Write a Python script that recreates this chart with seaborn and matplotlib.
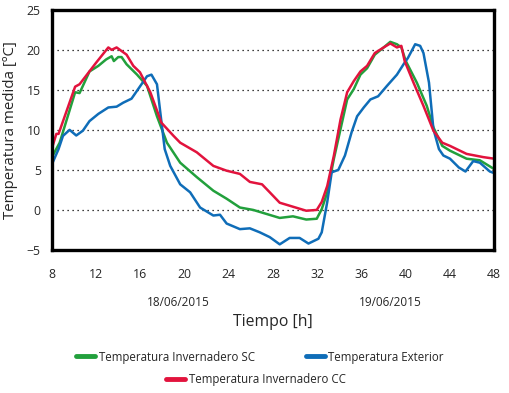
import pandas as pd
import seaborn as sns
import matplotlib.pyplot as plt
import matplotlib.transforms as mtransforms

# Temperatura Invernadero CC (rojo)
horas_cc = [8.0, 8.4, 8.6, 10.1, 10.5, 12.0, 13.1, 13.4, 13.85, 14.75, 15.36, 15.96, 16.9,
            17.9, 19.0, 19.6, 21.1, 22.6, 23.8, 25.0, 25.9, 27.0, 27.7, 28.6, 29.8, 31.0,
            31.95, 32.4, 32.9, 33.5, 34.1, 34.7, 35.3, 35.9, 36.5, 37.2, 38.0, 38.6, 39.2,
            39.6, 39.9, 40.7, 41.6, 42.5, 43.3, 44.0, 45.5, 47.0, 48.0]
temp_cc = [7.7, 9.5, 9.5, 15.4, 15.7, 18.4, 20.3, 20.0, 20.3, 19.4, 18.0, 17.2, 14.7,
           10.9, 9.25, 8.4, 7.2, 5.5, 4.9, 4.5, 3.5, 3.2, 2.2, 0.9, 0.4, -0.1,
           0.0, 1.0, 3.0, 6.8, 11.3, 14.7, 16.1, 17.3, 18.0, 19.6, 20.3, 20.8, 20.3,
           20.5, 18.6, 15.9, 13.0, 9.9, 8.4, 8.0, 7.0, 6.6, 6.4]

# Temperatura Invernadero SC (verde)
horas_sc = [8.0, 8.7, 10.1, 10.5, 11.4, 12.2, 12.9, 13.4, 13.6, 14.0, 14.3, 14.75, 15.7,
            16.6, 17.5, 18.4, 19.6, 21.1, 22.6, 23.8, 25.0, 26.2, 27.4, 28.6, 29.8, 31.0,
            31.95, 32.4, 32.9, 33.5, 34.1, 34.7, 35.3, 35.9, 36.5, 37.2, 38.0, 38.6, 39.2,
            39.6, 40.0, 41.0, 41.9, 42.5, 43.3, 44.0, 45.5, 46.7, 48.0]
temp_sc = [6.6, 8.4, 14.7, 14.6, 17.3, 18.0, 18.8, 19.2, 18.6, 19.1, 19.1, 18.2, 16.9,
           15.5, 11.7, 8.4, 5.9, 4.1, 2.4, 1.4, 0.3, 0.0, -0.5, -1.0, -0.8, -1.2,
           -1.1, 0.1, 2.2, 6.4, 10.1, 13.8, 15.1, 16.9, 17.7, 19.4, 20.3, 21.0, 20.7,
           20.3, 18.6, 15.9, 13.0, 10.3, 8.0, 7.4, 6.4, 6.2, 5.1]

# Temperatura Exterior (azul)
horas_ext = [8.0, 8.6, 9.0, 9.6, 10.2, 10.8, 11.4, 12.2, 13.1, 13.85, 14.45, 15.2, 15.8,
             16.6, 17.0, 17.5, 17.8, 18.2, 18.7, 19.6, 20.5, 21.4, 22.6, 23.2, 23.8, 25.0,
             25.9, 26.8, 27.7, 28.6, 29.5, 30.4, 31.2, 32.1, 32.4, 32.9, 33.3, 33.9, 34.5,
             35.1, 35.6, 36.2, 36.8, 37.5, 38.3, 39.2, 39.8, 40.2, 40.85, 41.3, 41.6, 42.1,
             42.5, 43.0, 43.4, 44.0, 44.8, 45.4, 46.1, 46.7, 47.6, 48.0]
temp_ext = [5.7, 7.6, 9.25, 10.0, 9.3, 9.9, 11.1, 12.0, 12.8, 12.9, 13.4, 13.9, 15.1,
            16.7, 16.9, 15.7, 12.2, 7.6, 5.5, 3.2, 2.2, 0.3, -0.7, -0.6, -1.7, -2.4,
            -2.3, -2.8, -3.4, -4.3, -3.5, -3.5, -4.2, -3.6, -2.8, 1.0, 4.7, 5.0, 6.8,
            9.7, 11.7, 12.8, 13.8, 14.2, 15.5, 16.9, 18.2, 19.0, 20.7, 20.5, 19.6, 15.9,
            10.1, 7.6, 6.8, 6.4, 5.3, 4.8, 6.1, 5.9, 4.8, 4.6]

series = ['Temperatura Invernadero SC', 'Temperatura Exterior', 'Temperatura Invernadero CC']
colores = ['#22a03c', '#0f6db8', '#e2133d']
fechas = ['18/06/2015', '19/06/2015']
fechas_x = [19.4, 38.6]

df = pd.concat([
    pd.DataFrame({'hora': horas_sc, 'temp': temp_sc, 'serie': series[0]}),
    pd.DataFrame({'hora': horas_ext, 'temp': temp_ext, 'serie': series[1]}),
    pd.DataFrame({'hora': horas_cc, 'temp': temp_cc, 'serie': series[2]}),
])

sns.set_style('white')
plt.rcParams['font.family'] = ['Open Sans', 'DejaVu Sans']

fig, ax = plt.subplots(figsize=(5.09, 3.93), dpi=100)
fig.subplots_adjust(left=0.102, right=0.971, top=0.975, bottom=0.364)

sns.lineplot(data=df, x='hora', y='temp', hue='serie', hue_order=series,
             palette=colores, linewidth=1.8, legend=False, ax=ax)

ax.set_xlim(8, 48)
ax.set_ylim(-5, 25)
ax.set_xticks(range(8, 49, 4))
ax.set_yticks(range(-5, 26, 5))
ax.tick_params(axis='both', length=0, labelsize=8.8)
ax.tick_params(axis='x', pad=13)
ax.tick_params(axis='y', pad=8)
for y in [0, 5, 10, 15, 20]:
    ax.axhline(y, color='black', linestyle=(0, (1, 3)), linewidth=0.9, zorder=0)
for s in ax.spines.values():
    s.set_color('black')
    s.set_linewidth(2.4)

trans = mtransforms.blended_transform_factory(ax.transData, fig.transFigure)
for fx, f in zip(fechas_x, fechas):
    ax.text(fx, 1 - 303 / 393, f, transform=trans, ha='center', va='center', fontsize=8.5)

ax.set_xlabel('')
ax.set_ylabel('Temperatura medida [ºC]', fontsize=10.8, labelpad=6)
fig.text(273 / 509, 1 - 322 / 393, 'Tiempo [h]', ha='center', va='center', fontsize=11.3)

# leyenda en dos filas
h = [plt.Line2D([], [], color=c, linewidth=3.5) for c in colores]
fig.legend(h[:2], series[:2], ncol=2, loc='center', bbox_to_anchor=(260 / 509, 1 - 357 / 393),
           frameon=False, fontsize=8.3, handlelength=1.65, handletextpad=0.3, columnspacing=4.4)
fig.legend(h[2:], series[2:], loc='center', bbox_to_anchor=(256 / 509, 1 - 380 / 393),
           frameon=False, fontsize=8.3, handlelength=1.65, handletextpad=0.3)

fig.savefig('out.png', dpi=100)
